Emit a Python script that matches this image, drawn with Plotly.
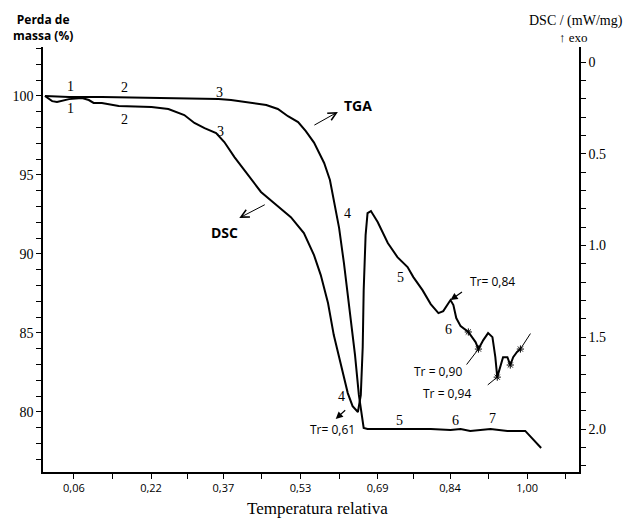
import plotly.graph_objects as go

# ---- data ----
x_tickvals = [0.06, 0.22, 0.37, 0.53, 0.69, 0.84, 1.00]
x_ticktext = ["0,06", "0,22", "0,37", "0,53", "0,69", "0,84", "1,00"]
x_minor = [0.14, 0.295, 0.45, 0.61, 0.765, 0.92, 1.08]

mass_ticks = [80, 85, 90, 95, 100]
dsc_ticks = [0, 0.5, 1.0, 1.5, 2.0]
dsc_ticktext = ["0", "0.5", "1.0", "1.5", "2.0"]

tga_T = [0.000, 0.050, 0.118, 0.221, 0.324, 0.360, 0.386, 0.428, 0.459, 0.483, 0.504,
         0.525, 0.541, 0.558, 0.579, 0.591, 0.601, 0.610, 0.620, 0.632, 0.643, 0.651,
         0.657, 0.661, 0.669, 0.731, 0.800, 0.841, 0.862, 0.882, 0.924, 0.959, 0.996, 1.029]
tga_mass = [100.0, 99.94, 99.94, 99.87, 99.84, 99.81, 99.75, 99.59, 99.43, 99.18, 98.72,
            98.35, 97.78, 97.05, 95.76, 94.68, 93.10, 91.65, 89.43, 86.46, 83.61, 81.08,
            79.62, 78.99, 78.92, 78.92, 78.92, 78.86, 78.92, 78.80, 78.92, 78.80, 78.80, 77.72]

dsc_T = [0.000, 0.015, 0.025, 0.039, 0.050, 0.077, 0.091, 0.101, 0.118, 0.153, 0.221,
         0.256, 0.289, 0.310, 0.331, 0.355, 0.372, 0.393, 0.422, 0.448, 0.475, 0.510,
         0.537, 0.558, 0.572, 0.587, 0.599, 0.614, 0.628, 0.638, 0.649, 0.655, 0.659,
         0.661, 0.665, 0.669, 0.676, 0.690, 0.711, 0.731, 0.752, 0.764, 0.783, 0.800,
         0.816, 0.826, 0.835, 0.841, 0.847, 0.853, 0.862, 0.878, 0.893, 0.899, 0.909,
         0.919, 0.928, 0.934, 0.938, 0.944, 0.950, 0.959, 0.965, 0.971, 0.979, 0.986]
dsc_val = [0.185, 0.213, 0.218, 0.207, 0.202, 0.196, 0.207, 0.223, 0.223, 0.240, 0.245,
           0.256, 0.289, 0.332, 0.360, 0.387, 0.436, 0.518, 0.616, 0.708, 0.768, 0.845,
           0.932, 1.052, 1.161, 1.313, 1.488, 1.657, 1.804, 1.875, 1.907, 1.815, 1.553,
           1.243, 0.943, 0.823, 0.812, 0.872, 0.986, 1.063, 1.117, 1.172, 1.243, 1.319,
           1.368, 1.357, 1.319, 1.297, 1.324, 1.395, 1.439, 1.471, 1.526, 1.564, 1.515,
           1.477, 1.499, 1.608, 1.717, 1.662, 1.608, 1.608, 1.651, 1.608, 1.580, 1.564]

mark_T = [0.878, 0.899, 0.938, 0.965, 0.986]
mark_dsc = [1.471, 1.564, 1.717, 1.651, 1.564]

SERIF = "Liberation Serif"
SANS = "Open Sans"

fig = go.Figure()
fig.add_trace(go.Scatter(x=tga_T, y=tga_mass, mode="lines",
                         line=dict(color="black", width=2), yaxis="y", hoverinfo="skip"))
fig.add_trace(go.Scatter(x=dsc_T, y=dsc_val, mode="lines",
                         line=dict(color="black", width=2), yaxis="y2", hoverinfo="skip"))
fig.add_trace(go.Scatter(x=mark_T, y=mark_dsc, mode="markers", yaxis="y2",
                         marker=dict(symbol="asterisk-open", size=6, color="black",
                                     line=dict(color="black", width=1)), hoverinfo="skip"))

axis_common = dict(showline=True, linecolor="black", linewidth=1.5, showgrid=False,
                   zeroline=False, ticks="outside", ticklen=5, tickwidth=1, tickcolor="black")

fig.update_layout(
    width=627, height=520,
    margin=dict(l=41, r=48, t=47, b=48),
    plot_bgcolor="white", paper_bgcolor="white",
    showlegend=False,
    xaxis=dict(range=[-0.004, 1.1075], tickmode="array", tickvals=x_tickvals, ticktext=x_ticktext,
               tickfont=dict(family=SANS, size=11, color="black"),
               minor=dict(tickmode="array", tickvals=x_minor, ticks="outside", ticklen=5,
                          tickwidth=1, tickcolor="black"),
               **axis_common),
    yaxis=dict(range=[76.2, 103.1], tickmode="array", tickvals=mass_ticks,
               tickfont=dict(family=SERIF, size=14, color="black"),
               minor=dict(tick0=0, dtick=1, ticks="outside", ticklen=5, tickwidth=1,
                          tickcolor="black"),
               **axis_common),
    yaxis2=dict(range=[2.234, -0.082], overlaying="y", side="right", tickmode="array",
                tickvals=dsc_ticks, ticktext=dsc_ticktext,
                tickfont=dict(family=SERIF, size=14, color="black"),
                minor=dict(tick0=0, dtick=0.1, ticks="outside", ticklen=5, tickwidth=1,
                           tickcolor="black"),
                **axis_common),
)

anns = []
# axis titles
anns.append(dict(text="<b>Perda de<br>massa (%)</b>", xref="paper", yref="paper", x=0.0, y=1.047,
                 xanchor="center", yanchor="middle", showarrow=False,
                 font=dict(family=SANS, size=12, color="black")))
anns.append(dict(text="DSC / (mW/mg)", xref="paper", yref="paper", x=1.0855, y=1.061,
                 xanchor="right", yanchor="middle", showarrow=False,
                 font=dict(family=SERIF, size=14, color="black")))
anns.append(dict(text="↑ exo", xref="paper", yref="paper", x=0.989, y=1.0235,
                 xanchor="center", yanchor="middle", showarrow=False,
                 font=dict(family=SERIF, size=13, color="black")))
anns.append(dict(text="Temperatura relativa", xref="paper", yref="paper", x=0.513, y=-0.087,
                 xanchor="center", yanchor="middle", showarrow=False,
                 font=dict(family=SERIF, size=17, color="black")))

# number labels (left-axis data coords)
num_labels = [("1", 0.052, 100.57), ("2", 0.165, 100.51), ("3", 0.362, 100.25),
              ("1", 0.052, 99.18), ("2", 0.165, 98.48), ("3", 0.364, 97.78),
              ("4", 0.628, 92.59), ("4", 0.614, 80.95), ("5", 0.738, 88.54),
              ("5", 0.736, 79.49), ("6", 0.837, 85.19), ("6", 0.851, 79.43),
              ("7", 0.928, 79.56)]
for t, xx, yy in num_labels:
    anns.append(dict(text=t, x=xx, y=yy, xref="x", yref="y", showarrow=False,
                     font=dict(family=SERIF, size=14, color="black")))

# curve names
anns.append(dict(text="<b>TGA</b>", x=0.649, y=99.37, xref="x", yref="y", showarrow=False,
                 font=dict(family=SANS, size=14, color="black")))
anns.append(dict(text="<b>DSC</b>", x=0.372, y=91.39, xref="x", yref="y", showarrow=False,
                 font=dict(family=SANS, size=14, color="black")))

# Tr labels
tr_labels = [("Tr= 0,84", 0.928, 88.23), ("Tr = 0,90", 0.816, 82.59),
             ("Tr = 0,94", 0.833, 81.14), ("Tr= 0,61", 0.597, 78.86)]
for t, xx, yy in tr_labels:
    anns.append(dict(text=t, x=xx, y=yy, xref="x", yref="y", showarrow=False,
                     font=dict(family=SANS, size=12, color="black")))

# arrows / pointer lines
anns.append(dict(text="", x=0.6075, y=98.99, xref="x", yref="y", ax=-25, ay=14,
                 showarrow=True, arrowhead=5, arrowsize=1.6, arrowwidth=1, arrowcolor="black"))
anns.append(dict(text="", x=0.403, y=92.28, xref="x", yref="y", ax=27, ay=-14,
                 showarrow=True, arrowhead=5, arrowsize=1.6, arrowwidth=1, arrowcolor="black"))
anns.append(dict(text="", x=0.841, y=1.297, xref="x", yref="y2", ax=13, ay=-9,
                 showarrow=True, arrowhead=2, arrowsize=1.2, arrowwidth=1.2, arrowcolor="black"))
anns.append(dict(text="", x=0.603, y=79.56, xref="x", yref="y", ax=11, ay=-10,
                 showarrow=True, arrowhead=2, arrowsize=1.2, arrowwidth=1.2, arrowcolor="black"))
anns.append(dict(text="", x=0.899, y=1.564, xref="x", yref="y2", ax=-13, ay=17,
                 showarrow=True, arrowhead=0, arrowwidth=1, arrowcolor="black"))
anns.append(dict(text="", x=0.938, y=1.717, xref="x", yref="y2", ax=-11, ay=9,
                 showarrow=True, arrowhead=0, arrowwidth=1, arrowcolor="black"))
anns.append(dict(text="", x=0.986, y=1.564, xref="x", yref="y2", ax=11, ay=-17,
                 showarrow=True, arrowhead=0, arrowwidth=1, arrowcolor="black"))

fig.update_layout(annotations=anns)
fig.write_html("out.html", config={"displayModeBar": False},
               post_script="document.body.style.margin='0';document.body.style.padding='0';")
